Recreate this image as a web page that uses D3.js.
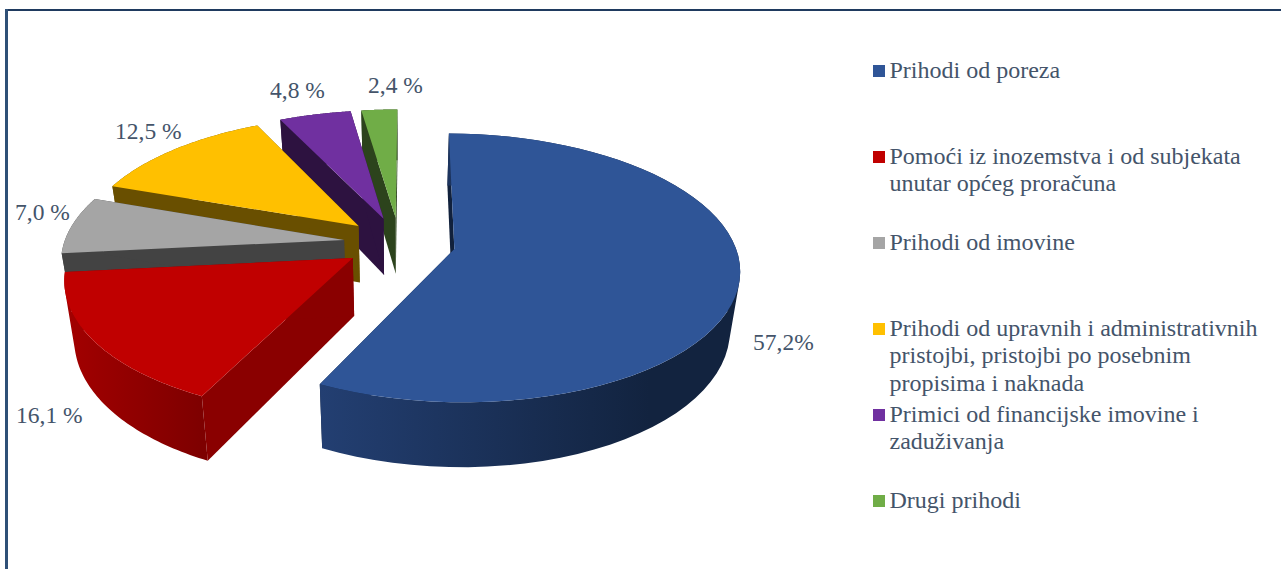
<!DOCTYPE html>
<html><head><meta charset="utf-8">
<style>html,body{margin:0;padding:0;background:#fff;overflow:hidden}svg{display:block}text{font-family:"Liberation Serif","Times New Roman",serif;fill:#44546a}</style>
<script src="https://cdn.jsdelivr.net/npm/d3@7"></script></head><body>
<svg id="c" width="1281" height="569"></svg>
<script>
const categories = ["Prihodi od poreza","Pomoći iz inozemstva i od subjekata unutar općeg proračuna","Prihodi od imovine","Prihodi od upravnih i administrativnih pristojbi, pristojbi po posebnim propisima i naknada","Primici od financijske imovine i zaduživanja","Drugi prihodi"];
const values = [57.2,16.1,7.0,12.5,4.8,2.4];
const valueLabels = ["57,2%","16,1 %","7,0 %","12,5 %","4,8 %","2,4 %"];
const legendLines = [["Prihodi od poreza"],["Pomoći iz inozemstva i od subjekata","unutar općeg proračuna"],["Prihodi od imovine"],["Prihodi od upravnih i administrativnih","pristojbi, pristojbi po posebnim","propisima i naknada"],["Primici od financijske imovine i","zaduživanja"],["Drugi prihodi"]];
const topColors = ["#2f5597","#c00000","#a5a5a5","#ffc000","#7030a0","#70ad47"];
const faceColors = ["#11213c","#8a0000","#434343","#694f00","#2d1240","#2c431c"];
const wallStops = [["#233f72","#12233f"],["#a30000","#7e0000"],["#434343","#434343"],["#694f00","#694f00"],["#2d1240","#2d1240"],["#2c431c","#2c431c"]];
const labelPos = [[753,350],[16,423],[15,220],[115,139],[270,98],[368,93]];

const W=1281,H=569;
const svg=d3.select("#c");
// frame
svg.append("rect").attr("x",5).attr("y",9).attr("width",W).attr("height",2).attr("fill","#1f3a5f");
svg.append("rect").attr("x",5).attr("y",9).attr("width",3).attr("height",H).attr("fill","#2f5077");

// projection of the exploded 3D pie
const CX=399.5,CY=243,A=280,B=130,P=0.14,EXPLODE=0.2;
const project=(X,Y)=>{const w=1-P*Y;return [CX+A*X/w,CY+B*Y/w];};
const floor=([x,y])=>[CX+(x-CX)*0.97,y*1.048+45.6];
const rot=0.3*Math.PI/180;
const pie=d3.pie().sort(null).startAngle(rot).endAngle(rot+2*Math.PI)(values);
const line=d3.line();
const defs=svg.append("defs");
const order=[5,4,3,2,1,0];
order.forEach(i=>{
  const d=pie[i],mid=(d.startAngle+d.endAngle)/2;
  const ox=EXPLODE*Math.sin(mid),oy=-EXPLODE*Math.cos(mid);
  const apex=project(ox,oy);
  const arcPts=d3.range(0,61).map(k=>{const t=d.startAngle+(d.endAngle-d.startAngle)*k/60;return project(ox+Math.sin(t),oy-Math.cos(t));});
  const g=svg.append("g");
  const first=arcPts[0],last=arcPts[60];
  // radial faces
  [first,last].forEach(pt=>{
    g.append("path").attr("d",line([apex,pt,floor(pt),floor(apex)])+"Z").attr("fill",faceColors[i]);
  });
  // outer wall: union of consistently wound quads
  const gid="w"+i;
  const xs=arcPts.map(p=>p[0]);
  const gr=defs.append("linearGradient").attr("id",gid).attr("gradientUnits","userSpaceOnUse")
    .attr("x1",d3.min(xs)).attr("x2",i===0?d3.min(xs)+330:d3.max(xs)).attr("y1",0).attr("y2",0);
  gr.append("stop").attr("offset",0).attr("stop-color",wallStops[i][0]);
  gr.append("stop").attr("offset",1).attr("stop-color",wallStops[i][1]);
  const wallPath=d3.range(0,60).map(k=>{
    const q=[arcPts[k],arcPts[k+1],floor(arcPts[k+1]),floor(arcPts[k])];
    if(d3.polygonArea(q)<0) q.reverse();
    return line(q)+"Z";
  }).join("");
  g.append("path").attr("d",wallPath).attr("fill",`url(#${gid})`);
  // top
  g.append("path").attr("d",line([apex].concat(arcPts))+"Z").attr("fill",topColors[i]);
});

// data labels
valueLabels.forEach((t,i)=>{
  svg.append("text").attr("x",labelPos[i][0]).attr("y",labelPos[i][1]).attr("font-size",23.5).text(t);
});

// legend
const yL=d3.scalePoint().domain(categories).range([71,501]);
categories.forEach((c,i)=>{
  const y=yL(c);
  svg.append("rect").attr("x",873).attr("y",y-6).attr("width",12).attr("height",12).attr("fill",topColors[i]);
  legendLines[i].forEach((l,k)=>{
    svg.append("text").attr("x",889.5).attr("y",y+6.5+k*27.5).attr("font-size",24).text(l);
  });
});
</script></body></html>
